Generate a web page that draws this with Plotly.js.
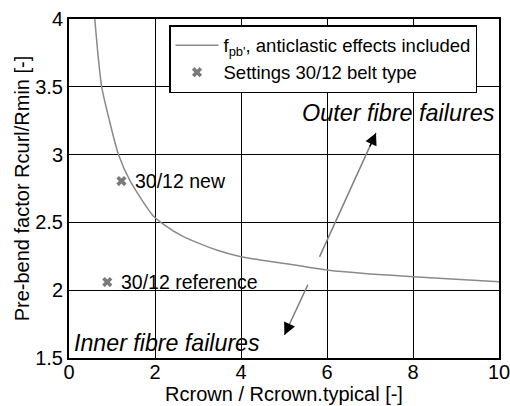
<!DOCTYPE html>
<html>
<head>
<meta charset="utf-8">
<script src="https://cdn.plot.ly/plotly-3.0.1.min.js"></script>
<style>html,body{margin:0;padding:0;background:#fff;}#chart{width:510px;height:406px;}</style>
</head>
<body>
<div id="chart"></div>
<script>
// Curve f_pb (anticlastic effects included)
var curveX = [0.60, 0.67, 0.76, 0.91, 1.15, 1.43, 1.94, 2.19, 2.66, 3.43, 4.0, 4.98, 6.0, 7.0, 8.0, 9.0, 10.0];
var curveY = [4.0, 3.75, 3.5, 3.29, 3.0, 2.80, 2.555, 2.488, 2.395, 2.296, 2.247, 2.198, 2.149, 2.12, 2.10, 2.08, 2.063];
// Settings 30/12 belt type
var setX = [0.89, 1.22];
var setY = [2.06, 2.805];
var setLabels = ["30/12 reference", "30/12 new"];
// Arrows (tail -> head)
var outerArrowTail = [5.81, 2.235];
var outerArrowHead = [7.14, 3.16];
var innerArrowTail = [5.57, 2.05];
var innerArrowHead = [5.01, 1.67];
var xTicks = [0, 2, 4, 6, 8, 10];
var yTicks = [1.5, 2, 2.5, 3, 3.5, 4];

var FONT = 'Liberation Sans, Arial, Helvetica, sans-serif';

var traces = [
  {x: curveX, y: curveY, mode: 'lines', type: 'scatter',
   name: 'f<sub>pb\'</sub>, anticlastic effects included',
   line: {color: '#8a8a8a', width: 1.5, shape: 'spline', smoothing: 0.6}},
  {x: setX, y: setY, mode: 'markers', type: 'scatter',
   name: 'Settings 30/12 belt type',
   marker: {symbol: 'x', size: 9, color: '#7a7a7a', line: {width: 0}}}
];

function arrowPair(tail, head) {
  var dx = head[0] - tail[0], dy = head[1] - tail[1];
  return [
    {x: head[0], y: head[1], ax: tail[0], ay: tail[1], xref: 'x', yref: 'y', axref: 'x', ayref: 'y',
     showarrow: true, arrowhead: 0, arrowwidth: 1.5, arrowcolor: '#808080', text: ''},
    {x: head[0], y: head[1], ax: head[0] - dx * 0.12, ay: head[1] - dy * 0.12, xref: 'x', yref: 'y', axref: 'x', ayref: 'y',
     showarrow: true, arrowhead: 2, arrowsize: 1.6, arrowwidth: 1.5, arrowcolor: '#000000', text: ''}
  ];
}

var annotations = [];
annotations = annotations.concat(arrowPair(outerArrowTail, outerArrowHead));
annotations = annotations.concat(arrowPair(innerArrowTail, innerArrowHead));
annotations.push({x: 9.96, y: 3.307, xref: 'x', yref: 'y', xanchor: 'right', yanchor: 'middle', showarrow: false,
  text: '<i>Outer fibre failures</i>', font: {family: FONT, size: 23.4, color: '#000'}});
annotations.push({x: 0.08, y: 1.61, xref: 'x', yref: 'y', xanchor: 'left', yanchor: 'middle', showarrow: false,
  text: '<i>Inner fibre failures</i>', font: {family: FONT, size: 23.2, color: '#000'}});
for (var i = 0; i < setX.length; i++) {
  annotations.push({x: setX[i], y: setY[i], xref: 'x', yref: 'y', xanchor: 'left', yanchor: 'middle', xshift: 12,
    showarrow: false, text: setLabels[i], font: {family: FONT, size: 19.5, color: '#000'}});
}

var layout = {
  width: 510, height: 406,
  margin: {l: 69, r: 11, t: 19, b: 48, pad: 0},
  paper_bgcolor: '#fff', plot_bgcolor: '#fff',
  font: {family: FONT, size: 20, color: '#000'},
  showlegend: true,
  legend: {x: 0.2326, y: 0.982, xanchor: 'left', yanchor: 'top', bgcolor: '#fff',
    bordercolor: '#000', borderwidth: 1.5, font: {family: FONT, size: 18.5}, itemwidth: 43, tracegroupgap: 0},
  xaxis: {range: [0, 10], tickvals: xTicks, showgrid: true, gridcolor: '#000', gridwidth: 1,
    showline: true, mirror: true, linecolor: '#000', linewidth: 2, zeroline: false, ticks: '',
    ticklabeloverflow: 'allow', ticklabelstandoff: -5,
    tickfont: {size: 20}, title: {text: 'Rcrown / Rcrown.typical [-]', font: {size: 20}, standoff: 2}},
  yaxis: {range: [1.5, 4], tickvals: yTicks, showgrid: true, gridcolor: '#000', gridwidth: 1,
    showline: true, mirror: true, linecolor: '#000', linewidth: 2, zeroline: false, ticks: '',
    tickfont: {size: 20}, title: {text: 'Pre-bend factor Rcurl/Rmin [-]', font: {size: 20}, standoff: 0}},
  annotations: annotations
};

Plotly.newPlot('chart', traces, layout, {displayModeBar: false, staticPlot: true});
</script>
</body>
</html>
